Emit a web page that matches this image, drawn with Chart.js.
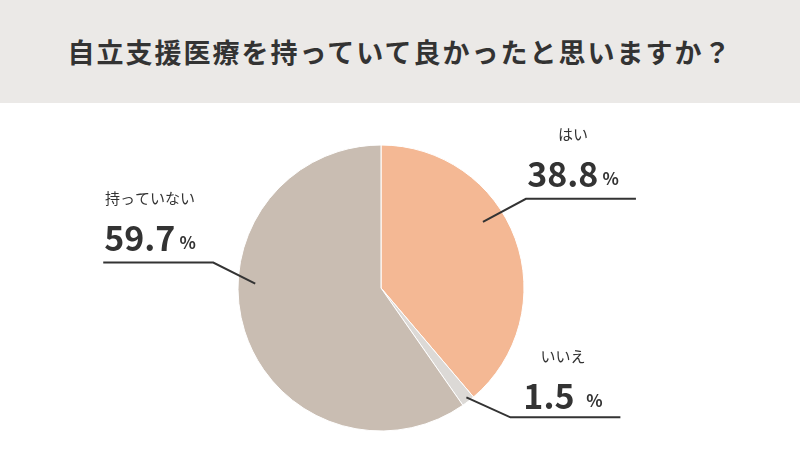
<!DOCTYPE html>
<html>
<head>
<meta charset="utf-8">
<script src="https://cdn.jsdelivr.net/npm/chart.js@4"></script>
<style>
  body { margin: 0; width: 800px; height: 450px; background: #fff; overflow: hidden;
         font-family: "Noto Sans CJK JP", sans-serif; }
  #title { height: 103px; background: #ebe9e7; color: #333; font-size: 27px; font-weight: bold;
           display: flex; align-items: center; justify-content: center; letter-spacing: 2px; }
  #wrap { position: relative; width: 800px; height: 347px; }
</style>
</head>
<body>
<div id="title">自立支援医療を持っていて良かったと思いますか？</div>
<div id="wrap"><canvas id="c"></canvas></div>
<script>
const labels = ['はい', 'いいえ', '持っていない'];
const values = [38.8, 1.5, 59.7];
const valueText = ['38.8', '1.5 ', '59.7'];
const colors = ['#f4b894', '#dcd9d6', '#c9bdb2'];

// leader line layout per slice: anchor radius fraction, elbow offset, line direction
const callouts = [
  { frac: 0.85, ang: 57, ex: 43, ey: -23, len: 110, tx: 573, ty: 134 },
  { frac: 0.97, ang: 142, ex: 44, ey: 20, len: 110, tx: 563, ty: 356 },
  { frac: 0.88, ang: 272, ex: -42, ey: -21, len: -110, tx: 150, ty: 198 }
];

const calloutPlugin = {
  id: 'callouts',
  afterDraw(chart) {
    const ctx = chart.ctx;
    const arc = chart.getDatasetMeta(0).data[0];
    const top = 103;
    ctx.save();
    callouts.forEach((c, i) => {
      const a = c.ang * Math.PI / 180;
      const r = arc.outerRadius * c.frac;
      const x0 = arc.x + r * Math.sin(a), y0 = arc.y - r * Math.cos(a);
      const x1 = x0 + c.ex, y1 = y0 + c.ey;
      ctx.strokeStyle = '#333';
      ctx.lineWidth = 2;
      ctx.beginPath();
      ctx.moveTo(x0, y0); ctx.lineTo(x1, y1); ctx.lineTo(x1 + c.len, y1);
      ctx.stroke();
      ctx.fillStyle = '#333';
      ctx.textAlign = 'center';
      ctx.textBaseline = 'middle';
      ctx.font = '15px "Noto Sans CJK JP"';
      ctx.fillText(labels[i], c.tx, c.ty - top);
      ctx.font = 'bold 34px "Noto Sans CJK JP"';
      const t = valueText[i];
      const w = ctx.measureText(t).width;
      ctx.font = 'bold 17px "Noto Sans CJK JP"';
      const w2 = ctx.measureText('%').width;
      const sx = c.tx - (w + w2 + 4) / 2;
      ctx.textAlign = 'left';
      ctx.font = 'bold 34px "Noto Sans CJK JP"';
      ctx.fillText(t, sx, c.ty + 40 - top);
      ctx.font = 'bold 17px "Noto Sans CJK JP"';
      ctx.fillText('%', sx + w + 4, c.ty + 45 - top);
    });
    ctx.restore();
  }
};

new Chart(document.getElementById('c'), {
  type: 'pie',
  data: {
    labels: labels,
    datasets: [{ data: values, backgroundColor: colors, borderColor: '#fff', borderWidth: 1 }]
  },
  options: {
    responsive: true,
    maintainAspectRatio: false,
    animation: false,
    radius: 143,
    layout: { padding: { top: 23, bottom: 0, right: 38 } },
    plugins: { legend: { display: false }, tooltip: { enabled: false } }
  },
  plugins: [calloutPlugin]
});
</script>
</body>
</html>
